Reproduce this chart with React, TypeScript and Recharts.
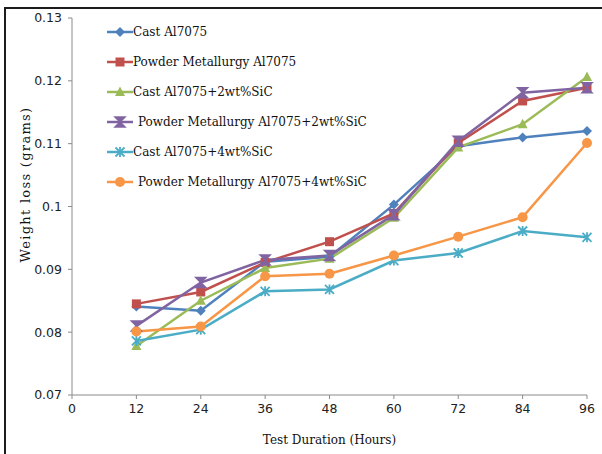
import React from "react";
import { LineChart, Line, XAxis, YAxis, Legend } from "recharts";

const hours = [12, 24, 36, 48, 60, 72, 84, 96];
const xTicks = [0, 12, 24, 36, 48, 60, 72, 84, 96];
const yTicks = [0.07, 0.08, 0.09, 0.1, 0.11, 0.12, 0.13];

const castAl7075 = [0.0841, 0.0834, 0.0912, 0.092, 0.1003, 0.1096, 0.111, 0.112];
const pmAl7075 = [0.0845, 0.0864, 0.0911, 0.0944, 0.0989, 0.1101, 0.1168, 0.1189];
const cast2SiC = [0.0778, 0.085, 0.0902, 0.0917, 0.0982, 0.1094, 0.1131, 0.1206];
const pm2SiC = [0.081, 0.0879, 0.0915, 0.0922, 0.0987, 0.1104, 0.1181, 0.1189];
const cast4SiC = [0.0786, 0.0804, 0.0865, 0.0868, 0.0914, 0.0926, 0.0961, 0.0951];
const pm4SiC = [0.0801, 0.0809, 0.0889, 0.0893, 0.0922, 0.0952, 0.0983, 0.1101];

const seriesNames = [
  "Cast Al7075",
  "Powder Metallurgy Al7075",
  "Cast Al7075+2wt%SiC",
  "Powder Metallurgy Al7075+2wt%SiC",
  "Cast Al7075+4wt%SiC",
  "Powder Metallurgy Al7075+4wt%SiC",
];
const seriesValues = [castAl7075, pmAl7075, cast2SiC, pm2SiC, cast4SiC, pm4SiC];
const colors = ["#4F81BD", "#C0504D", "#9BBB59", "#8064A2", "#4BACC6", "#F79646"];
const markers = ["diamond", "square", "triangle", "hourglass", "star", "circle"];
const legendIndent = [0, 0, 0, 5, 0, 5];

const keys = ["s0", "s1", "s2", "s3", "s4", "s5"];
const data = hours.map((h, i) => {
  const row: Record<string, number> = { hour: h };
  seriesValues.forEach((vals, j) => {
    row[keys[j]] = vals[i];
  });
  return row;
});

function Marker({ kind, cx, cy, color }: { kind: string; cx: number; cy: number; color: string }) {
  if (cx == null || cy == null) return null;
  switch (kind) {
    case "diamond":
      return <path d={`M${cx} ${cy - 5}L${cx + 5} ${cy}L${cx} ${cy + 5}L${cx - 5} ${cy}Z`} fill={color} />;
    case "square":
      return <rect x={cx - 4.5} y={cy - 4.5} width={9} height={9} fill={color} />;
    case "triangle":
      return <path d={`M${cx} ${cy - 5.5}L${cx + 5} ${cy + 4}L${cx - 5} ${cy + 4}Z`} fill={color} />;
    case "hourglass":
      return (
        <path
          d={`M${cx - 5} ${cy - 5}L${cx + 5} ${cy - 5}L${cx} ${cy}L${cx + 5} ${cy + 5}L${cx - 5} ${cy + 5}L${cx} ${cy}Z`}
          fill={color}
          stroke={color}
          strokeWidth={1.5}
        />
      );
    case "star":
      return (
        <path
          d={`M${cx - 4.5} ${cy - 4.5}L${cx + 4.5} ${cy + 4.5}M${cx + 4.5} ${cy - 4.5}L${cx - 4.5} ${cy + 4.5}M${cx} ${cy - 5}L${cx} ${cy + 5}`}
          stroke={color}
          strokeWidth={1.8}
          fill="none"
        />
      );
    default:
      return <circle cx={cx} cy={cy} r={5} fill={color} />;
  }
}

const serif = "'DejaVu Serif', 'Liberation Serif', serif";
const sans = "'DejaVu Sans', Verdana, sans-serif";

function LegendContent() {
  return (
    <div style={{ fontFamily: serif, fontSize: 12, color: "#111" }}>
      {seriesNames.map((name, i) => (
        <div key={name} style={{ display: "flex", alignItems: "center", height: 30, whiteSpace: "nowrap" }}>
          <svg width={26} height={14} style={{ display: "block" }}>
            <line x1={0} y1={7} x2={26} y2={7} stroke={colors[i]} strokeWidth={2.5} />
            <Marker kind={markers[i]} cx={13} cy={7} color={colors[i]} />
          </svg>
          <span style={{ marginLeft: legendIndent[i] }}>{name}</span>
        </div>
      ))}
    </div>
  );
}

export default function App() {
  return (
    <div style={{ position: "absolute", left: 0, top: 0, width: 602, height: 454, overflow: "hidden", background: "#fff" }}>
      <div
        style={{
          position: "absolute",
          left: 4,
          top: 7,
          width: 700,
          height: 600,
          borderTop: "2px solid #1c1c1c",
          borderLeft: "2px solid #1c1c1c",
        }}
      />
      <LineChart width={602} height={454} data={data} margin={{ top: 18, right: 15, bottom: 24, left: 12 }}>
        <XAxis
          dataKey="hour"
          type="number"
          domain={[0, 96]}
          ticks={xTicks}
          interval={0}
          stroke="#8a8a8a"
          tickSize={4}
          tickMargin={5}
          height={35}
          tick={{ fill: "#222", fontSize: 12.5, fontFamily: sans }}
          label={{
            value: "Test Duration (Hours)",
            position: "insideBottom",
            offset: -14,
            style: { fill: "#111", fontSize: 12, fontFamily: serif },
          }}
        />
        <YAxis
          type="number"
          domain={[0.07, 0.13]}
          ticks={yTicks}
          interval={0}
          width={60}
          stroke="#8a8a8a"
          tickSize={4}
          tickMargin={6}
          tick={{ fill: "#222", fontSize: 12.5, fontFamily: sans }}
          label={{
            value: "Weight loss (grams)",
            angle: -90,
            position: "insideLeft",
            offset: 0,
            dx: 13,
            dy: -22,
            style: { fill: "#111", fontSize: 13, fontFamily: serif, textAnchor: "middle", letterSpacing: 1.3 },
          }}
        />
        <Legend
          layout="horizontal"
          verticalAlign="middle"
          align="center"
          wrapperStyle={{ left: 107, top: 17, width: "auto" }}
          content={() => <LegendContent />}
        />
        {keys.map((k, i) => (
          <Line
            key={k}
            dataKey={k}
            name={seriesNames[i]}
            stroke={colors[i]}
            strokeWidth={2.5}
            isAnimationActive={false}
            dot={(p: any) => <Marker key={`${k}-${p.index}`} kind={markers[i]} cx={p.cx} cy={p.cy} color={colors[i]} />}
            activeDot={false}
          />
        ))}
      </LineChart>
    </div>
  );
}
